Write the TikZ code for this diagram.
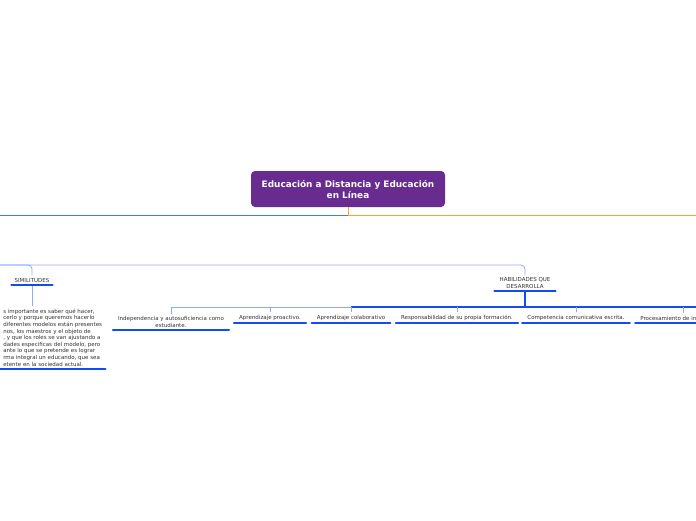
\documentclass[tikz,border=0pt]{standalone}
\usepackage{fontspec}
\setmainfont{DejaVu Sans}
\usepackage{tikz}
\usetikzlibrary{positioning}

\definecolor{mmpurple}{RGB}{104,44,144}
\definecolor{mmblue}{RGB}{18,76,245}
\definecolor{mmsky}{RGB}{140,170,245}
\definecolor{mmline}{RGB}{70,120,240}
\definecolor{mmorange}{RGB}{245,165,50}
\definecolor{mmtext}{RGB}{50,50,50}

\begin{document}
\begin{tikzpicture}[x=1pt, y=-1pt, font=\fontsize{5.5}{6.6}\selectfont,
    root/.style={fill=mmpurple, rounded corners=4pt, minimum width=194pt,
      minimum height=36pt, text=white, align=center,
      font=\bfseries\fontsize{8.9}{11}\selectfont},
    topic/.style={text=mmtext, align=center, inner xsep=5pt, inner ysep=2.6pt},
    uline/.style={mmblue, line width=2.3pt, line cap=round},
    trunk/.style={mmblue, line width=1.5pt},
    twig/.style={mmsky, line width=0.8pt, rounded corners=4pt}]
  \useasboundingbox[fill=white] (0,0) rectangle (696,520);

  % central topic
  \node[root] (root) at (348,189) {Educación a Distancia y Educación\\en Línea};
  \coordinate (wend) at (0,215);
  \coordinate (eend) at (696,215);
  \draw[mmline, line width=1pt] (wend) -- (root.south |- wend);
  \draw[mmorange, line width=1pt] (root.south) |- (eend);

  % second row
  \coordinate (wend2) at (0,265);
  \node[topic, anchor=south, inner xsep=3pt] (simil) at (32,285) {SIMILITUDES};
  \node[topic, anchor=south] (habil) at (525,291) {HABILIDADES QUE\\DESARROLLA};
  \draw[twig] (wend2) -| (simil.north);
  \draw[twig] (wend2) -| (habil.north);

  % similitudes text (cut at the left edge)
  \node[topic, anchor=south west, align=left, inner xsep=0pt, minimum width=105pt]
    (simtxt) at (0,369) {s importante es saber qué hacer,\\
      cerlo y porque queremos hacerlo\\
      diferentes modelos están presentes\\
      nos, los maestros y el objeto de\\
      , y que los roles se van ajustando a\\
      dades específicas del modelo, pero\\
      ante lo que se pretende es lograr\\
      rma integral un educando, que sea\\
      etente en la sociedad actual.};
  \draw[twig] (simil.south) -- (simil.south |- simtxt.north);

  % habilidades
  \node[topic, anchor=south] (c1) at (171,330) {Independencia y autosuficiencia como\\estudiante.};
  \node[topic, anchor=south] (c2) at (270,323) {Aprendizaje proactivo.};
  \node[topic, anchor=south] (c3) at (351,323) {Aprendizaje colaborativo};
  \node[topic, anchor=south] (c4) at (457,323) {Responsabilidad de su propia formación.};
  \node[topic, anchor=south] (c5) at (576,323) {Competencia comunicativa escrita.};
  \node[topic, anchor=south] (c6) at (683,323) {Procesamiento de información.};

  \coordinate (hub) at (525,307);
  \coordinate (eend3) at (696,307);
  \draw[trunk] (habil.south) -- (hub);
  \draw[trunk] (hub) -- (eend3);
  \draw[trunk] (hub) -- (c3.north |- hub);
  \draw[twig] (c3.north |- hub) -- (c1.north |- hub);
  \foreach \c in {c1,c2,c3,c4,c5,c6}
    \draw[twig] (\c.north |- hub) -- (\c.north);

  % underlines
  \foreach \n in {simil,habil,simtxt,c1,c2,c3,c4,c5,c6}
    \draw[uline] (\n.south west) -- (\n.south east);
\end{tikzpicture}
\end{document}
